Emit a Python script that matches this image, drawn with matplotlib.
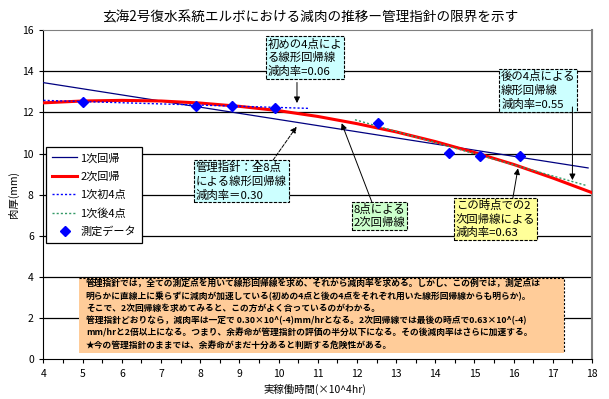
import matplotlib
matplotlib.use("Agg")
import matplotlib.pyplot as plt
from matplotlib.patches import Rectangle
import numpy as np

plt.rcParams['font.family'] = ['Noto Sans CJK JP', 'DejaVu Sans']

# measured points (x: 10^4 hr, y: wall thickness mm)
hours = [5.0, 7.9, 8.8, 9.9, 12.55, 14.35, 15.15, 16.15]
thickness = [12.51, 12.32, 12.32, 12.22, 11.50, 10.01, 9.89, 9.89]

# trendlines
lin_all_x = [4.0, 17.9]
lin_all_y = [13.44, 9.30]
quad_x = [4, 5, 6, 7, 8, 9, 10, 11, 12, 13, 14, 15, 16, 17, 18]
quad_y = [12.46, 12.55, 12.58, 12.55, 12.45, 12.29, 12.08, 11.80, 11.45,
          11.05, 10.58, 10.05, 9.47, 8.81, 8.10]
first4_x = [4.0, 10.8]
first4_y = [12.58, 12.19]
last4_x = [11.95, 17.85]
last4_y = [11.64, 8.45]

series_names = ['1次回帰', '2次回帰', '1次初4点', '1次後4点', '測定データ']
x_ticks = list(range(4, 19))
y_ticks = list(range(0, 17, 2))

title = '玄海2号復水系統エルボにおける減肉の推移ー管理指針の限界を示す'
note_lines = [
    '管理指針では，全ての測定点を用いて線形回帰線を求め、それから減肉率を求める。しかし、この例では，測定点は',
    '明らかに直線上に乗らずに減肉が加速している(初めの4点と後の4点をそれぞれ用いた線形回帰線からも明らか)。',
    'そこで、2次回帰線を求めてみると、この方がよく合っているのがわかる。',
    '管理指針どおりなら，減肉率は一定で 0.30×10^(-4)mm/hrとなる。2次回帰線では最後の時点で0.63×10^(-4)',
    'mm/hrと2倍以上になる。つまり、余寿命が管理指針の評価の半分以下になる。その後減肉率はさらに加速する。',
    '★今の管理指針のままでは、余寿命がまだ十分あると判断する危険性がある。',
]

fig = plt.figure(figsize=(6.09, 3.99), dpi=100)
ax = fig.add_axes([0.0714, 0.099, 0.9007, 0.826])

ax.plot(lin_all_x, lin_all_y, color='#000080', lw=0.9, label=series_names[0], zorder=3)
ax.plot(quad_x, quad_y, color='#FF0000', lw=2.2, label=series_names[1], zorder=4)
ax.plot(first4_x, first4_y, color='#0000FF', lw=1, ls=(0, (1.5, 1.5)), label=series_names[2], zorder=5)
ax.plot(last4_x, last4_y, color='#339966', lw=1, ls=(0, (1.5, 1.5)), label=series_names[3], zorder=5)
ax.plot(hours, thickness, ls='none', marker='D', ms=5.5, color='#0000FF', label=series_names[4], zorder=6)

ax.set_xlim(4, 18)
ax.set_ylim(0, 16)
ax.set_xticks(x_ticks)
ax.set_xticks(np.arange(4.5, 18, 1), minor=True)
ax.set_yticks(y_ticks)
ax.tick_params(axis='both', which='both', direction='out', length=3, width=0.8, labelsize=7.5, pad=4)
for y in y_ticks[1:-1]:
    ax.axhline(y, color='black', lw=0.9, zorder=1)
ax.spines['top'].set_color('#808080')
ax.spines['right'].set_color('#808080')
ax.spines['right'].set_linewidth(1.5)

leg = ax.legend(loc='upper left', bbox_to_anchor=(0.005, 0.645), borderaxespad=0, fontsize=8,
                fancybox=False, edgecolor='black', framealpha=1, numpoints=1, handlelength=2.2,
                labelspacing=0.72, borderpad=0.55, handletextpad=0.3)
leg.get_frame().set_linewidth(0.9)
leg.set_zorder(7)

fig.text(310 / 609, 1 - 17.5 / 399, title, ha='center', va='center', fontsize=9.8)
fig.text(13 / 609, 1 - 195 / 399, '肉厚(mm)', rotation=90, ha='center', va='center', fontsize=7.5)
fig.text(315 / 609, 1 - 389 / 399, '実稼働時間(×10^4hr)', ha='center', va='center', fontsize=7.5)

dash = (0, (3, 1.2))


def box(x, y, s, fc):
    ax.text(x, y, s, ha='left', va='top', fontsize=8.2, linespacing=1.3, zorder=8,
            bbox=dict(boxstyle='square,pad=0.15', fc=fc, ec='black', lw=0.8, ls=dash))


def arrow(tip, start, ls='-'):
    ax.annotate('', xy=tip, xytext=start, zorder=8,
                arrowprops=dict(arrowstyle='-|>', color='black', lw=0.7, ls=ls,
                                mutation_scale=9, shrinkA=0, shrinkB=0))


box(9.73, 15.6, '初めの4点によ\nる線形回帰線\n減肉率=0.06', '#CCFFFF')
arrow((10.47, 12.45), (10.47, 13.45))
box(15.68, 14.0, '後の4点による\n線形回帰線\n減肉率=0.55', '#CCFFFF')
arrow((17.5, 8.71), (17.5, 12.26))
box(7.89, 9.6, '管理指針：全8点\nによる線形回帰線\n減肉率＝0.30', '#CCFFFF')
arrow((10.46, 11.30), (9.86, 9.68), ls='--')
box(11.92, 7.57, '8点による\n2次回帰線', '#CCFFCC')
arrow((11.61, 11.47), (12.38, 7.65))
box(14.53, 7.76, 'この時点での2\n次回帰線による\n減肉率=0.63', '#FFFF99')
arrow((16.11, 9.28), (15.98, 7.84))

# explanatory note box
ax.add_patch(Rectangle((4.906, 0.316), 12.38, 3.64, fc='#FFCC99', ec='none', zorder=7))
ax.plot([4.906, 17.286, 17.286], [3.956, 3.956, 0.316], color='black', lw=0.8, ls=(0, (2, 1.5)), zorder=8)
ax.text(5.08, 3.9, '\n'.join(note_lines), ha='left', va='top', fontsize=6.3, fontweight='bold',
        linespacing=1.42, zorder=9)

fig.savefig('out.png', dpi=100)
